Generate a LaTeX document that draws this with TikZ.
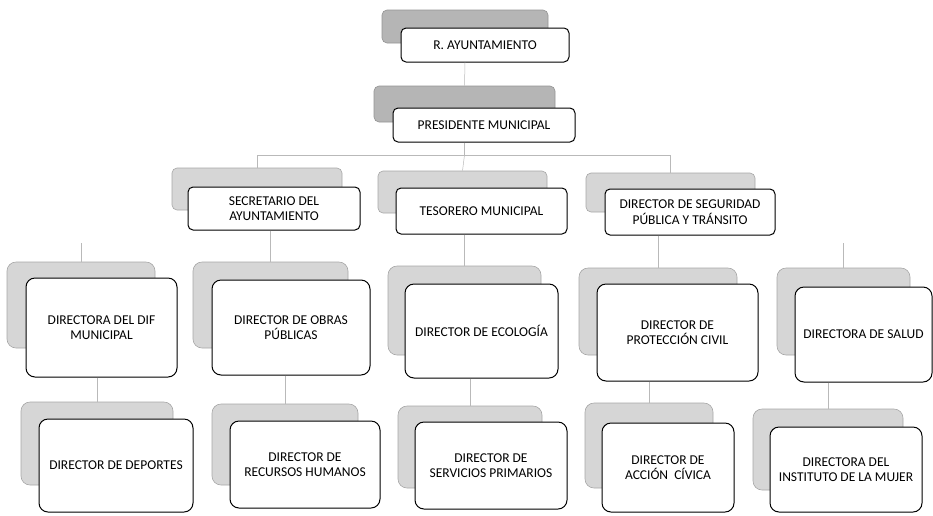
\documentclass[tikz,border=0pt]{standalone}
\usepackage{fontspec}
\setmainfont{Carlito}
\tikzset{
  backbox/.style={draw=gray!70, fill=gray!32, rounded corners=5pt, line width=0.6pt},
  darkback/.style={backbox, fill=gray!58, draw=gray!85},
  frontbox/.style={draw=black, fill=white, rounded corners=5pt, line width=1pt,
    align=center, inner sep=2pt, font=\fontsize{13.5}{15.5}\selectfont},
  bigfront/.style={frontbox, rounded corners=9pt},
  bigback/.style={backbox, rounded corners=9pt},
  conn/.style={draw=gray!55, line width=0.5pt}
}

\begin{document}
\begin{tikzpicture}[x=1pt,y=-1pt]
  \useasboundingbox (0,0) rectangle (933,515);

  % top levels
  \node[darkback, minimum width=166pt, minimum height=33pt] (ayuntB) at (465,26.5) {};
  \node[frontbox, minimum width=168pt, minimum height=34pt] (ayunt) at (485,45) {R. AYUNTAMIENTO};
  \node[darkback, minimum width=181pt, minimum height=36pt] (presB) at (464.5,104) {};
  \node[frontbox, minimum width=182pt, minimum height=34pt] (pres) at (484,125) {PRESIDENTE MUNICIPAL};

  % second level
  \node[backbox, minimum width=170pt, minimum height=42pt] (secrB) at (257,189) {};
  \node[frontbox, minimum width=172pt, minimum height=43pt] (secr) at (274,208.5) {SECRETARIO DEL\\AYUNTAMIENTO};
  \node[backbox, minimum width=169pt, minimum height=42pt] (tesoB) at (462.5,192) {};
  \node[frontbox, minimum width=171pt, minimum height=46pt] (teso) at (481.5,211) {TESORERO MUNICIPAL};
  \node[backbox, minimum width=169pt, minimum height=39pt] (seguB) at (670.5,192.5) {};
  \node[frontbox, minimum width=170pt, minimum height=46pt] (segu) at (690,212) {DIRECTOR DE SEGURIDAD\\PÚBLICA Y TRÁNSITO};

  % third row
  \node[bigback, minimum width=148pt, minimum height=86pt] (difB) at (81,305) {};
  \node[bigfront, minimum width=151pt, minimum height=99pt] (dif) at (101.5,327.5) {DIRECTORA DEL DIF\\MUNICIPAL};
  \node[bigback, minimum width=155pt, minimum height=86pt] (obrasB) at (270.5,305) {};
  \node[bigfront, minimum width=158pt, minimum height=95pt] (obras) at (291,327.5) {DIRECTOR DE OBRAS\\PÚBLICAS};
  \node[bigback, minimum width=153pt, minimum height=89pt] (ecolB) at (464.5,310.5) {};
  \node[bigfront, minimum width=153pt, minimum height=94pt] (ecol) at (481.5,331) {DIRECTOR DE ECOLOGÍA};
  \node[bigback, minimum width=158pt, minimum height=87pt] (protB) at (658,311.5) {};
  \node[bigfront, minimum width=161pt, minimum height=97pt] (prot) at (677.5,332.5) {DIRECTOR DE\\PROTECCIÓN CIVIL};
  \node[bigback, minimum width=133pt, minimum height=87pt] (saludB) at (843.5,311.5) {};
  \node[bigfront, minimum width=137pt, minimum height=95pt] (salud) at (863.5,334.5) {DIRECTORA DE SALUD};

  % fourth row
  \node[bigback, minimum width=152pt, minimum height=83pt] (depB) at (97,443.5) {};
  \node[bigfront, minimum width=154pt, minimum height=93pt] (dep) at (116,465.5) {DIRECTOR DE DEPORTES};
  \node[bigback, minimum width=146pt, minimum height=81pt] (recB) at (285,444.5) {};
  \node[bigfront, minimum width=150pt, minimum height=87pt] (rec) at (305,464.5) {DIRECTOR DE\\RECURSOS HUMANOS};
  \node[bigback, minimum width=144pt, minimum height=82pt] (servB) at (470,447) {};
  \node[bigfront, minimum width=152pt, minimum height=87pt] (serv) at (491,465.5) {DIRECTOR DE\\SERVICIOS PRIMARIOS};
  \node[bigback, minimum width=128pt, minimum height=85pt] (accB) at (649,445.5) {};
  \node[bigfront, minimum width=132pt, minimum height=89pt] (acc) at (668,467.5) {DIRECTOR DE\\ACCIÓN~~CÍVICA};
  \node[bigback, minimum width=150pt, minimum height=81pt] (mujB) at (828,449.5) {};
  \node[bigfront, minimum width=152pt, minimum height=85pt] (muj) at (846,469.5) {DIRECTORA DEL\\INSTITUTO DE LA MUJER};

  % connectors
  \draw[conn] (ayuntB.south |- ayunt.south) -- (presB.north);
  \draw[conn] (presB.south |- pres.south) -- (presB.south |- 0,155) coordinate (bus);
  \draw[conn] (bus) -| (secrB.north);
  \draw[conn] (bus) -| (seguB.north);
  \draw[conn] (bus) -- (tesoB.north);
  \coordinate (difT) at (difB.north |- 0,243);
  \coordinate (saludT) at (saludB.north |- 0,243);
  \draw[conn] (difT) -- (difB.north);
  \draw[conn] (obrasB.north |- secr.south) -- (obrasB.north);
  \draw[conn] (ecolB.north |- teso.south) -- (ecolB.north);
  \draw[conn] (protB.north |- segu.south) -- (protB.north);
  \draw[conn] (saludT) -- (saludB.north);
  \draw[conn] (depB.north |- dif.south) -- (depB.north);
  \draw[conn] (recB.north |- obras.south) -- (recB.north);
  \draw[conn] (servB.north |- ecol.south) -- (servB.north);
  \draw[conn] (accB.north |- prot.south) -- (accB.north);
  \draw[conn] (mujB.north |- salud.south) -- (mujB.north);
\end{tikzpicture}
\end{document}
